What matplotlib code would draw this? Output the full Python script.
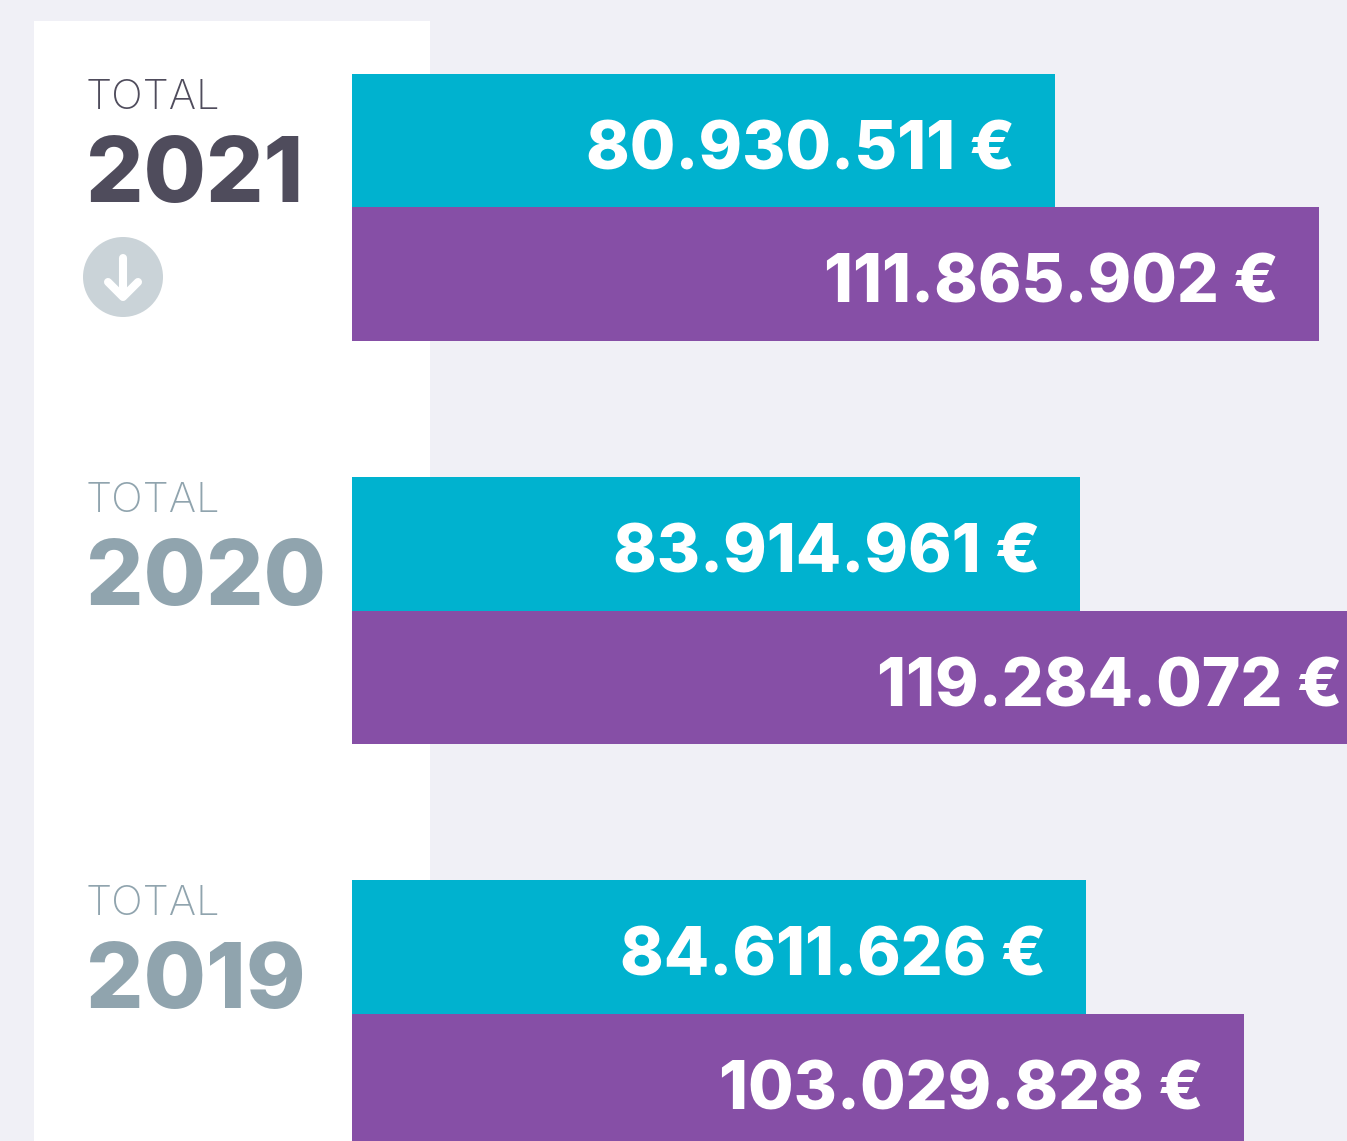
import matplotlib
matplotlib.use('Agg')
import matplotlib.pyplot as plt
from matplotlib.patches import Circle, Rectangle

years = ['2021', '2020', '2019']
teal_values = [80.930511, 83.914961, 84.611626]
purple_values = [111.865902, 119.284072, 103.029828]
teal_labels = ['80.930.511 €', '83.914.961 €', '84.611.626 €']
purple_labels = ['111.865.902 €', '119.284.072 €', '103.029.828 €']
year_colors = ['#4f4c5c', '#90a4ae', '#90a4ae']

W, H = 1347, 1141
BG = '#f0f0f6'
TEAL = '#00b2cf'
PURPLE = '#864fa6'
FONT = 'Inter'

fig = plt.figure(figsize=(W / 100, H / 100), dpi=100, facecolor=BG)

# pixel axes for the left column
px = fig.add_axes([0, 0, 1, 1], zorder=0)
px.set_xlim(0, W)
px.set_ylim(H, 0)
px.axis('off')
px.add_patch(Rectangle((34, 21), 396, H, color='white', lw=0))

for i, (year, col) in enumerate(zip(years, year_colors)):
    top = 403 * i
    px.text(86, 108.7 + top, 'TOTAL', color=col, fontsize=30, family=FONT, weight='light',
            ha='left', va='baseline')
    px.text(86, 202 + top, year, color=col, fontsize=65, family=FONT, weight='heavy',
            ha='left', va='baseline')

# down arrow badge
px.add_patch(Circle((123, 277), 40, color='#cad3d8', lw=0))
px.plot([123, 123], [258, 296], color='white', lw=5.8, solid_capstyle='round')
px.plot([108, 123, 138], [282, 297, 282], color='white', lw=5.8,
        solid_capstyle='round', solid_joinstyle='round')

# bars, values in millions of euro
ax = fig.add_axes([0, 0, 1, 1], zorder=1)
ax.patch.set_alpha(0)
ax.axis('off')
px_per_m = 8.55
x_start = -11 / px_per_m
ax.set_xlim(x_start - 352 / px_per_m, x_start + (W - 352) / px_per_m)
ax.set_ylim((H - 207.4) / 403.3, -207.4 / 403.3)

bar_h = 133.7 / 403.3
for i in range(len(years)):
    ax.barh(i - bar_h / 2, teal_values[i] - x_start, left=x_start, height=bar_h, color=TEAL, lw=0)
    ax.barh(i + bar_h / 2, purple_values[i] - x_start, left=x_start, height=bar_h, color=PURPLE, lw=0)
    ax.annotate(teal_labels[i], (teal_values[i], i - bar_h / 2), xytext=(-29, -8),
                textcoords='offset points', color='white', fontsize=47.5, family=FONT,
                weight='heavy', ha='right', va='center')
    ax.annotate(purple_labels[i], (purple_values[i], i + bar_h / 2), xytext=(-29, -8),
                textcoords='offset points', color='white', fontsize=47.5, family=FONT,
                weight='heavy', ha='right', va='center', annotation_clip=False)

fig.savefig('out.png', dpi=100, facecolor=BG)
